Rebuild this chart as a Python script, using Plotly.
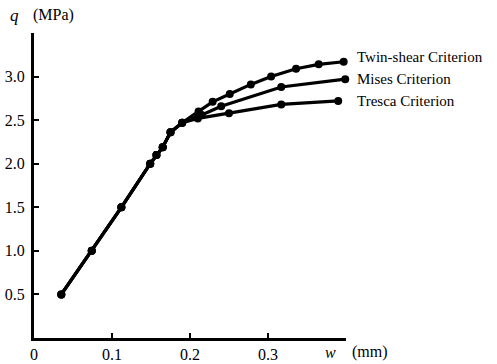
import plotly.graph_objects as go

# shared (elastic) portion
w_common = [0.035, 0.074, 0.112, 0.149, 0.157, 0.165, 0.175, 0.19]
q_common = [0.50, 1.00, 1.50, 2.00, 2.10, 2.19, 2.36, 2.47]

# branches after yielding
w_twin = [0.211, 0.229, 0.251, 0.278, 0.304, 0.336, 0.365, 0.397]
q_twin = [2.60, 2.71, 2.80, 2.91, 3.00, 3.09, 3.14, 3.17]
w_mises = [0.215, 0.24, 0.317, 0.399]
q_mises = [2.56, 2.66, 2.88, 2.97]
w_tresca = [0.21, 0.25, 0.317, 0.39]
q_tresca = [2.52, 2.58, 2.68, 2.72]

series_names = ["Twin-shear Criterion", "Mises Criterion", "Tresca Criterion"]

x_ticks = [0, 0.1, 0.2, 0.3, 0.4]
x_ticktext = ["0", "0.1", "0.2", "0.3", ""]
y_ticks = [0.5, 1.0, 1.5, 2.0, 2.5, 3.0, 3.5]
y_ticktext = ["0.5", "1.0", "1.5", "2.0", "2.5", "3.0", ""]

FONT = "Liberation Serif"

W, H = 497, 364
L, R, T, B = 34, 151, 33, 26
pw, ph = W - L - R, H - T - B

def px(xp):
    return (xp - L) / pw

def py(yp):
    return (H - B - yp) / ph

fig = go.Figure()
for wb, qb in [(w_twin, q_twin), (w_mises, q_mises), (w_tresca, q_tresca)]:
    fig.add_trace(go.Scatter(
        x=w_common + wb, y=q_common + qb, mode="lines+markers",
        line=dict(color="black", width=3.2),
        marker=dict(color="black", size=8),
        showlegend=False, cliponaxis=False, hoverinfo="skip",
    ))

# labels at the end of each branch (placed in paper coords beyond the axis end)
label_py = [57, 79, 101]
for name, yp in zip(series_names, label_py):
    fig.add_annotation(x=px(355), y=py(yp), xref="paper", yref="paper", text=name,
                       showarrow=False, xanchor="left", yanchor="middle",
                       font=dict(family=FONT, size=15, color="black"))

fig.add_annotation(x=px(14), y=py(15), xref="paper", yref="paper", text="<i>q</i>",
                   showarrow=False, xanchor="center", yanchor="middle",
                   font=dict(family=FONT, size=17, color="black"))
fig.add_annotation(x=px(31), y=py(15), xref="paper", yref="paper", text="(MPa)",
                   showarrow=False, xanchor="left", yanchor="middle",
                   font=dict(family=FONT, size=16, color="black"))
fig.add_annotation(x=px(330), y=py(352), xref="paper", yref="paper", text="<i>w</i>",
                   showarrow=False, xanchor="center", yanchor="middle",
                   font=dict(family=FONT, size=16, color="black"))
fig.add_annotation(x=px(350), y=py(352), xref="paper", yref="paper", text="(mm)",
                   showarrow=False, xanchor="left", yanchor="middle",
                   font=dict(family=FONT, size=16, color="black"))

fig.update_xaxes(range=[0, 0.4], tickvals=x_ticks, ticktext=x_ticktext,
                 ticks="inside", ticklen=5, tickwidth=2, tickcolor="black",
                 showline=True, linecolor="black", linewidth=2.5, showgrid=False,
                 zeroline=False, automargin=False,
                 tickfont=dict(family=FONT, size=16, color="black"))
fig.update_yaxes(range=[0, 3.5], tickvals=y_ticks, ticktext=y_ticktext,
                 ticks="inside", ticklen=5, tickwidth=2, tickcolor="black",
                 showline=True, linecolor="black", linewidth=3, showgrid=False,
                 zeroline=False, automargin=False, ticklabelstandoff=3,
                 tickfont=dict(family=FONT, size=16, color="black"))

fig.update_layout(width=W, height=H, margin=dict(l=L, r=R, t=T, b=B, autoexpand=False),
                  plot_bgcolor="white", paper_bgcolor="white",
                  font=dict(family=FONT, color="black"))

fig.write_html("out.html", config={"displayModeBar": False},
               post_script="document.body.style.margin='0';")
